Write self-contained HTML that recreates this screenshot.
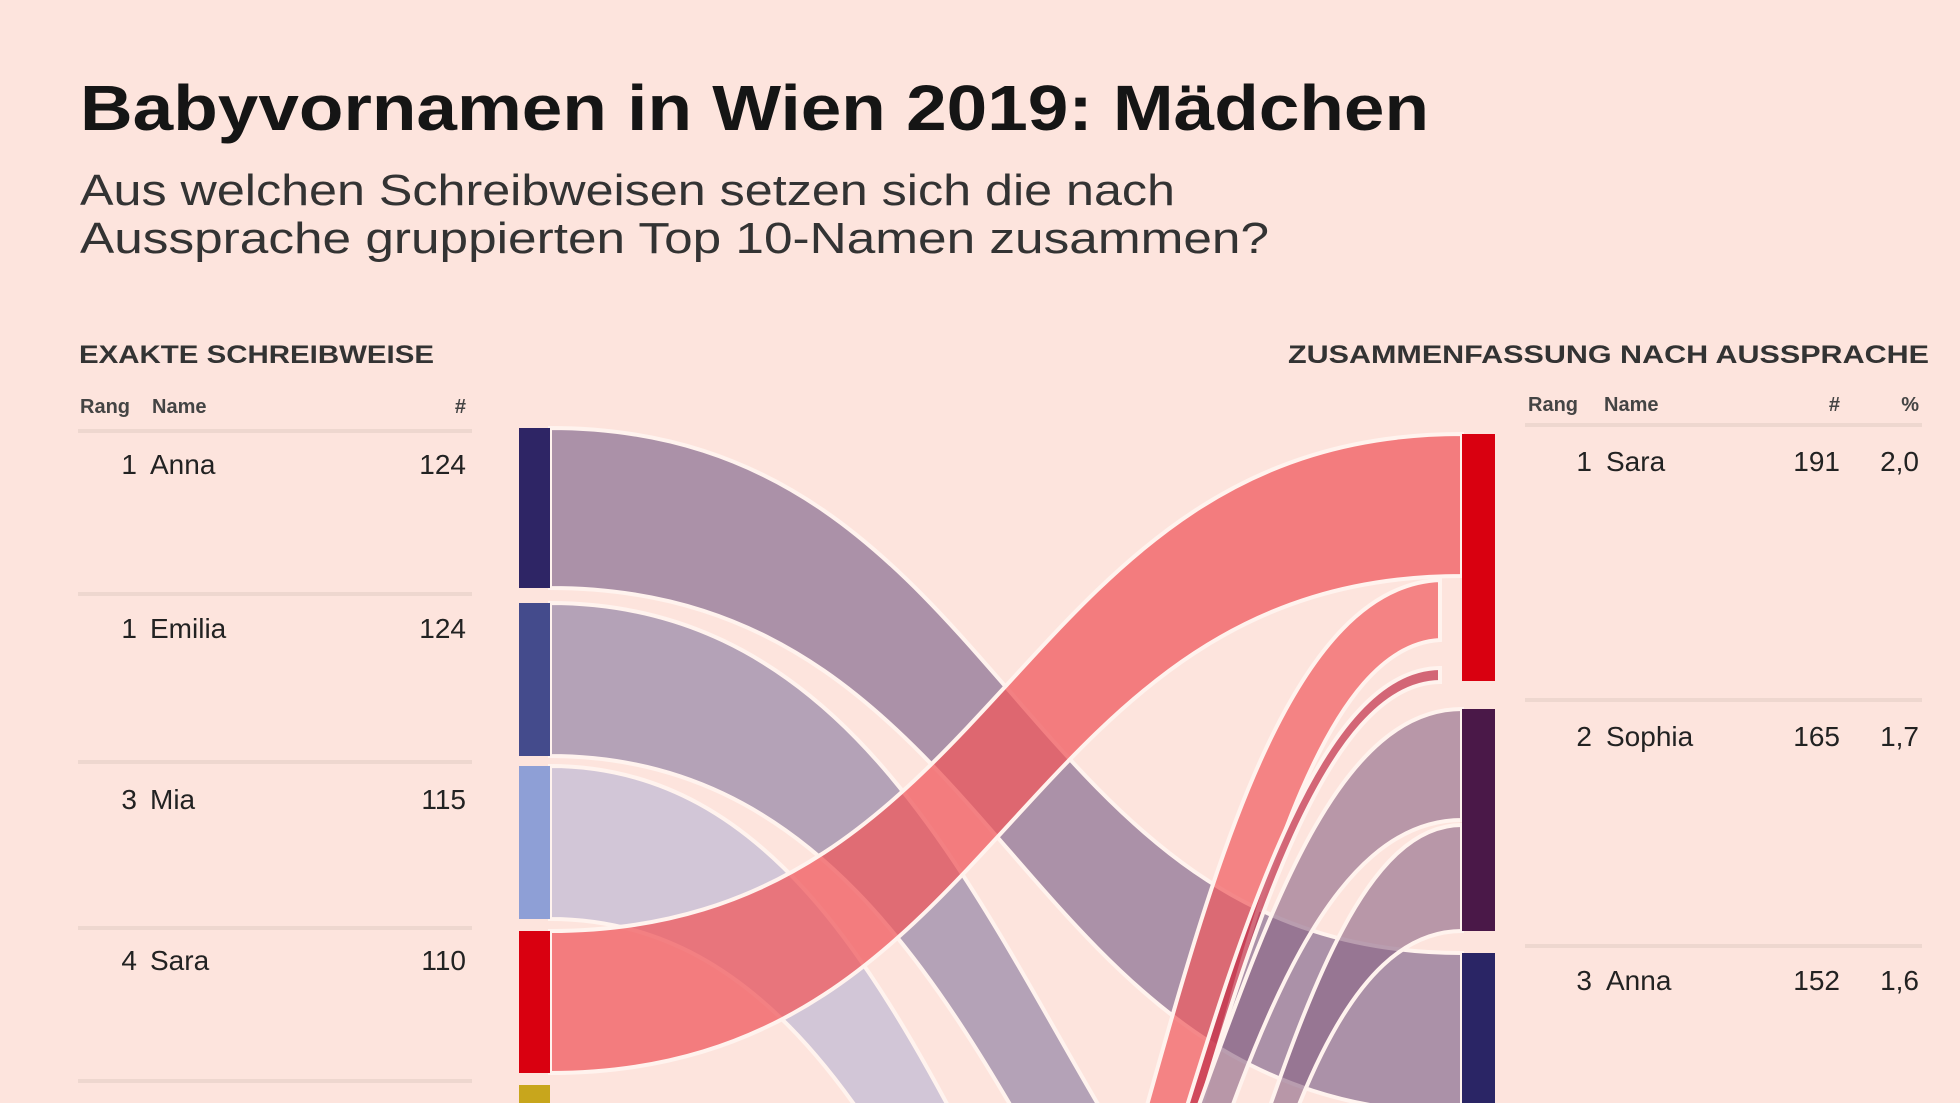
<!DOCTYPE html>
<html style="overflow:hidden"><head><meta charset="utf-8"><style>
html,body{margin:0;width:1960px;height:1103px;overflow:hidden;background:#fde4dd;font-family:"Liberation Sans",sans-serif;color:#1a1a1a}
</style></head><body>
<svg width="1960" height="1103" style="position:absolute;left:0;top:0;overflow:hidden">
<g font-family="Liberation Sans, sans-serif">
<text x="80" y="130" font-size="64" font-weight="bold" fill="#151515" textLength="1349" lengthAdjust="spacingAndGlyphs">Babyvornamen in Wien 2019: Mädchen</text>
<text x="80" y="205" font-size="44" fill="#333" textLength="1095" lengthAdjust="spacingAndGlyphs">Aus welchen Schreibweisen setzen sich die nach</text>
<text x="80" y="253" font-size="44" fill="#333" textLength="1189" lengthAdjust="spacingAndGlyphs">Aussprache gruppierten Top 10-Namen zusammen?</text>
<text x="79" y="363" font-size="25" font-weight="bold" fill="#333" textLength="355" lengthAdjust="spacingAndGlyphs">EXAKTE SCHREIBWEISE</text>
<text x="1288" y="363" font-size="25" font-weight="bold" fill="#333" textLength="641" lengthAdjust="spacingAndGlyphs">ZUSAMMENFASSUNG NACH AUSSPRACHE</text>
<g font-size="20" fill="#444" font-weight="bold">
<text x="80" y="413">Rang</text><text x="152" y="413">Name</text><text x="466" y="413" text-anchor="end">#</text>
<text x="1528" y="411">Rang</text><text x="1604" y="411">Name</text><text x="1840" y="411" text-anchor="end">#</text><text x="1919" y="411" text-anchor="end">%</text>
</g>
<g stroke="#eed7cf" stroke-width="4">
<line x1="78" y1="431" x2="472" y2="431"/><line x1="78" y1="594" x2="472" y2="594"/><line x1="78" y1="762" x2="472" y2="762"/><line x1="78" y1="928" x2="472" y2="928"/><line x1="78" y1="1081" x2="472" y2="1081"/>
<line x1="1525" y1="425" x2="1922" y2="425"/><line x1="1525" y1="700" x2="1922" y2="700"/><line x1="1525" y1="946" x2="1922" y2="946"/>
</g>
<g font-size="28" fill="#222">
<text x="137" y="474" text-anchor="end">1</text><text x="150" y="474">Anna</text><text x="466" y="474" text-anchor="end">124</text>
<text x="137" y="638" text-anchor="end">1</text><text x="150" y="638">Emilia</text><text x="466" y="638" text-anchor="end">124</text>
<text x="137" y="809" text-anchor="end">3</text><text x="150" y="809">Mia</text><text x="466" y="809" text-anchor="end">115</text>
<text x="137" y="970" text-anchor="end">4</text><text x="150" y="970">Sara</text><text x="466" y="970" text-anchor="end">110</text>
<text x="1592" y="471" text-anchor="end">1</text><text x="1606" y="471">Sara</text><text x="1840" y="471" text-anchor="end">191</text><text x="1919" y="471" text-anchor="end">2,0</text>
<text x="1592" y="746" text-anchor="end">2</text><text x="1606" y="746">Sophia</text><text x="1840" y="746" text-anchor="end">165</text><text x="1919" y="746" text-anchor="end">1,7</text>
<text x="1592" y="990" text-anchor="end">3</text><text x="1606" y="990">Anna</text><text x="1840" y="990" text-anchor="end">152</text><text x="1919" y="990" text-anchor="end">1,6</text>
</g>
</g>
<g stroke="#fff3ee" stroke-width="4">
<path d="M550,766 C1000,766 1000,1650 1462,1650 L1462,1803 C1000,1803 1000,919 550,919Z" fill="#d0c4d6" fill-opacity="0.95"/>
<path d="M550,603 C1050,603 1050,1400 1462,1400 L1462,1553 C1050,1553 1050,756 550,756Z" fill="#a796b0" fill-opacity="0.85"/>
<path d="M550,428 C1010,428 1010,953 1462,953 L1462,1113 C1010,1113 1010,588 550,588Z" fill="#8f7596" fill-opacity="0.75"/>
<path d="M550,931 C1010,931 1010,434 1462,434 L1462,576 C1010,576 1010,1073 550,1073Z" fill="#ef5a5e" fill-opacity="0.75"/>
<path d="M1000,1500 C1150,1300 1200,590 1440,580 L1440,640 C1250,650 1200,1300 1060,1500Z" fill="#ef5a5e" fill-opacity="0.7"/>
<path d="M1040,1500 C1170,1300 1250,670 1440,668 L1440,682 C1260,684 1180,1300 1060,1500Z" fill="#c0304a" fill-opacity="0.7"/>
<path d="M1000,1500 C1200,1300 1250,709 1462,709 L1462,820 C1260,820 1200,1300 1080,1500Z" fill="#8a6486" fill-opacity="0.6"/>
<path d="M1100,1500 C1250,1300 1300,825 1462,825 L1462,931 C1300,931 1250,1300 1170,1500Z" fill="#8a6486" fill-opacity="0.6"/>
<path d="M1150,1500 C1280,1300 1330,1115 1462,1115 L1462,1200 C1330,1200 1280,1400 1200,1500Z" fill="#7a6a96" fill-opacity="0.6"/>
</g>
<rect x="519" y="428" width="31" height="160" fill="#2e2565"/>
<rect x="519" y="603" width="31" height="153" fill="#444b8c"/>
<rect x="519" y="766" width="31" height="153" fill="#8e9fd6"/>
<rect x="519" y="931" width="31" height="142" fill="#d90010"/>
<rect x="519" y="1085" width="31" height="18" fill="#c8a61c"/>
<rect x="1462" y="434" width="33" height="247" fill="#d90010"/>
<rect x="1462" y="709" width="33" height="222" fill="#4a1848"/>
<rect x="1462" y="953" width="33" height="150" fill="#2a2565"/>
</svg>
</body></html>
